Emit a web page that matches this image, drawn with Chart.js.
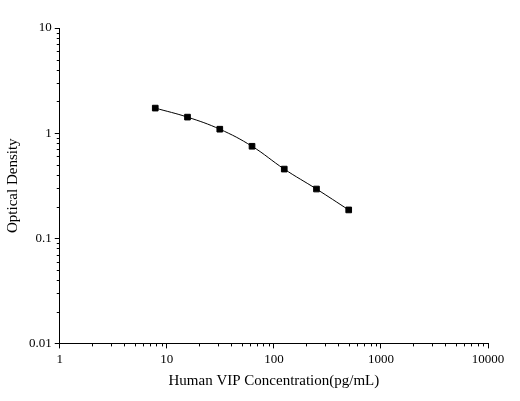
<!DOCTYPE html>
<html>
<head>
<meta charset="utf-8">
<script src="https://cdn.jsdelivr.net/npm/chart.js@4"></script>
<style>
  html, body { margin: 0; padding: 0; background: #fff; }
  #wrap { width: 520px; height: 401px; }
</style>
</head>
<body>
<div id="wrap"><canvas id="myChart"></canvas></div>
<script>
// concentrations (pg/mL) and optical densities
const concentrations = [7.8, 15.6, 31.25, 62.5, 125, 250, 500];
const densities = [1.73, 1.42, 1.09, 0.75, 0.455, 0.294, 0.186];
const xTicks = [1, 10, 100, 1000, 10000];
const yTicks = [0.01, 0.1, 1, 10];

const font = { family: 'Liberation Serif', size: 13 };

let minorTicks = {
    id: 'minorTicks',
    afterDraw: function (chart) {
        const c = chart.ctx;
        c.save();
        c.strokeStyle = '#000';
        c.lineWidth = 1;
        const xs = chart.scales.x, ys = chart.scales.y;
        for (let d = 1; d < 10000; d *= 10) {
            for (let k = 2; k < 10; k++) {
                let px = Math.round(xs.getPixelForValue(d * k)) + 0.5;
                c.beginPath(); c.moveTo(px, xs.top); c.lineTo(px, xs.top + 3); c.stroke();
            }
        }
        for (let d = 0.01; d < 10; d *= 10) {
            for (let k = 2; k < 10; k++) {
                let py = Math.round(ys.getPixelForValue(d * k)) + 0.5;
                c.beginPath(); c.moveTo(ys.right, py); c.lineTo(ys.right - 3, py); c.stroke();
            }
        }
        c.restore();
    }
};

new Chart(document.getElementById('myChart'), {
    type: 'line',
    data: {
        datasets: [{
            data: concentrations.map((x, i) => ({ x: x, y: densities[i] })),
            borderColor: '#000',
            borderWidth: 1,
            tension: 0.4,
            pointStyle: 'rect',
            pointRadius: 4,
            pointBackgroundColor: '#000',
            pointBorderColor: '#000'
        }]
    },
    plugins: [minorTicks],
    options: {
        animation: false,
        responsive: true,
        maintainAspectRatio: false,
        layout: { padding: { top: 28, right: 32, left: 0, bottom: 7 } },
        plugins: { legend: { display: false }, tooltip: { enabled: false } },
        scales: {
            x: {
                type: 'logarithmic',
                min: 1, max: 10000,
                afterBuildTicks: s => { s.ticks = xTicks.map(v => ({ value: v })); },
                ticks: { color: '#000', font: font, autoSkip: false, maxRotation: 0,
                    callback: v => String(v) },
                grid: { drawOnChartArea: false, color: '#000', tickLength: 5 },
                border: { color: '#000', width: 1 },
                title: { display: true, text: 'Human VIP Concentration(pg/mL)', color: '#000',
                    font: { family: 'Liberation Serif', size: 15 }, padding: { top: 2 } }
            },
            y: {
                type: 'logarithmic',
                min: 0.01, max: 10,
                afterBuildTicks: s => { s.ticks = yTicks.map(v => ({ value: v })); },
                ticks: { color: '#000', font: font, autoSkip: false,
                    callback: v => String(v) },
                grid: { drawOnChartArea: false, color: '#000', tickLength: 5 },
                border: { color: '#000', width: 1 },
                title: { display: true, text: 'Optical Density', color: '#000',
                    font: { family: 'Liberation Serif', size: 15 }, padding: { bottom: 4 } }
            }
        }
    }
});
</script>
</body>
</html>
